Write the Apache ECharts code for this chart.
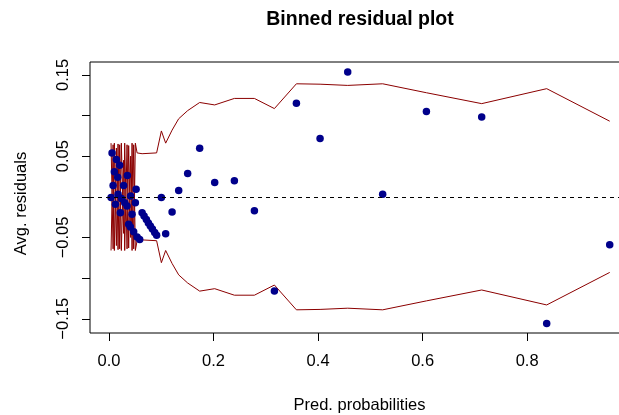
<!DOCTYPE html>
<html>
<head>
<meta charset="utf-8">
<script src="https://cdn.jsdelivr.net/npm/echarts@6/dist/echarts.min.js"></script>
<style>html,body{margin:0;padding:0;background:#fff}#c{width:619px;height:415px}</style>
</head>
<body>
<div id="c"></div>
<script>
// Binned points: mean predicted probability and average residual
var pointX = [0.0038,0.0057,0.0077,0.0101,0.0121,0.0140,0.0165,0.0172,0.0203,0.0216,0.0235,0.0279,0.0299,0.0344,0.0350,0.0375,0.0408,0.0413,0.0440,0.0471,0.0503,0.0517,0.0536,0.0586,0.0632,0.0670,0.0714,0.0752,0.0790,0.0829,0.0873,0.0910,0.1001,0.1083,0.1206,0.1332,0.1504,0.1734,0.2021,0.2398,0.2781,0.3164,0.3585,0.4038,0.4567,0.5236,0.6073,0.7131,0.8375,0.9581];
var pointY = [-0.0007,0.0540,0.0140,0.0307,-0.0093,0.0459,0.0242,0.0033,0.0389,-0.0196,-0.0020,0.0140,-0.0074,-0.0114,0.0263,-0.0339,-0.0372,0.0009,-0.0216,-0.0429,-0.0074,0.0094,-0.0494,-0.0525,-0.0196,-0.0237,-0.0280,-0.0323,-0.0360,-0.0396,-0.0439,-0.0474,-0.0007,-0.0454,-0.0188,0.0079,0.0287,0.0598,0.0177,0.0196,-0.0172,-0.1157,0.1150,0.0717,0.1534,0.0033,0.1048,0.0982,-0.1558,-0.0589];
// Upper error band (lower band is its mirror)
var bandX = [0.0038,0.0077,0.0101,0.0140,0.0172,0.0203,0.0235,0.0279,0.0299,0.0344,0.0375,0.0413,0.0440,0.0471,0.0503,0.0536,0.0632,0.0910,0.1001,0.1083,0.1206,0.1332,0.1504,0.1734,0.2021,0.2398,0.2781,0.3164,0.3585,0.4038,0.4567,0.5236,0.6073,0.7131,0.8375,0.9581];
var bandY = [0.066,-0.064,0.066,-0.060,0.065,-0.064,0.066,-0.045,0.066,-0.064,0.063,-0.050,0.066,-0.064,0.066,0.054,0.053,0.054,0.081,0.066,0.082,0.096,0.106,0.116,0.113,0.121,0.121,0.1085,0.139,0.1385,0.137,0.139,0.128,0.1146,0.133,0.093];
// Axis ticks
var xTicks = [0, 0.2, 0.4, 0.6, 0.8];
var yTicks = [-0.15, -0.10, -0.05, 0, 0.05, 0.10, 0.15];
var yLabels = [-0.15, -0.05, 0.05, 0.15];

function pairs(xs, ys, sign) {
  return xs.map(function (x, i) { return [x, sign * ys[i]]; });
}
var FONT = 'Liberation Sans, Arial, sans-serif';
var chart = echarts.init(document.getElementById('c'), null, {renderer: 'canvas'});
chart.setOption({
  animation: false,
  backgroundColor: '#fff',
  title: {
    text: 'Binned residual plot',
    left: 360, top: 10, textAlign: 'center', padding: 0,
    textStyle: {fontFamily: FONT, fontSize: 19.5, fontWeight: 'bold', color: '#000'}
  },
  grid: {left: 90, width: 539, top: 62, height: 271, outerBoundsMode: 'none', containLabel: false,
    show: true, borderColor: '#000', borderWidth: 1, backgroundColor: 'transparent'},
  xAxis: {
    type: 'value', min: -0.0365, max: 0.995,
    name: 'Pred. probabilities', nameLocation: 'middle', nameGap: 64,
    nameTextStyle: {fontFamily: FONT, fontSize: 16.5, color: '#000'},
    axisLine: {show: false, onZero: false},
    splitLine: {show: false},
    axisTick: {show: true, length: 8, lineStyle: {color: '#000'}, customValues: xTicks},
    axisLabel: {fontFamily: FONT, fontSize: 16.5, color: '#000', margin: 20, customValues: xTicks,
      formatter: function (v) { return v.toFixed(1); }}
  },
  yAxis: {
    type: 'value', min: -0.1675, max: 0.1658,
    name: 'Avg. residuals', nameLocation: 'middle', nameGap: 60,
    nameTextStyle: {fontFamily: FONT, fontSize: 16.5, color: '#000', padding: [0, 12, 0, 0]},
    axisLine: {show: false, onZero: false},
    splitLine: {show: false},
    axisTick: {show: true, length: 8, lineStyle: {color: '#000'}, customValues: yTicks},
    axisLabel: {fontFamily: FONT, fontSize: 16.5, color: '#000', margin: 18, rotate: 90, customValues: yLabels,
      formatter: function (v) { return v.toFixed(2).replace('-', '\u2212'); }}
  },
  series: [
    {
      type: 'line', data: pairs(bandX, bandY, 1), showSymbol: false, symbol: 'none', z: 2,
      lineStyle: {color: '#8B0000', width: 1},
      markLine: {silent: true, symbol: 'none', label: {show: false},
        lineStyle: {color: '#000', type: [4, 4], width: 1}, data: [{yAxis: 0}]}
    },
    {type: 'line', data: pairs(bandX, bandY, -1), showSymbol: false, symbol: 'none', z: 2,
      lineStyle: {color: '#8B0000', width: 1}},
    {type: 'scatter', data: pairs(pointX, pointY, 1), symbol: 'circle', symbolSize: 7.5, z: 3,
      itemStyle: {color: '#00008B', opacity: 1}}
  ]
});
</script>
</body>
</html>
